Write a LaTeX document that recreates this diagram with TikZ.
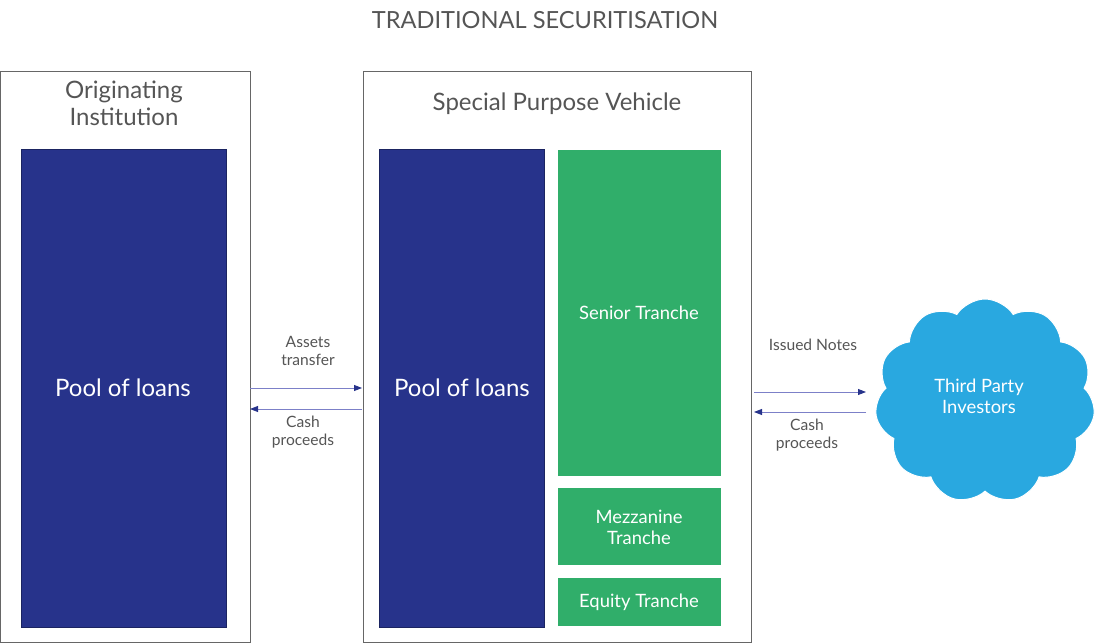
\documentclass[tikz,border=0pt]{standalone}
\usepackage{fontspec}
\setmainfont{Lato}
\usetikzlibrary{shapes.symbols,arrows.meta}
\definecolor{navy}{HTML}{27338B}
\definecolor{grn}{HTML}{30AE6A}
\definecolor{sky}{HTML}{29A8E0}
\definecolor{txt}{HTML}{555555}
\definecolor{frame}{HTML}{666666}
\definecolor{arr}{HTML}{7C80C8}
\begin{document}
\begin{tikzpicture}[x=1pt,y=-1pt,
  outer/.style={draw=frame,line width=1.3pt,anchor=north west,inner sep=0pt},
  pool/.style={fill=navy,draw=navy!70!black,line width=0.5pt,anchor=north west,inner sep=0pt},
  tranche/.style={fill=grn,anchor=north west,inner sep=0pt},
  pooltxt/.style={text=white,font=\fontsize{24}{27}\selectfont},
  trtxt/.style={text=white,font=\fontsize{18.4}{21}\selectfont,align=center},
  lbl/.style={text=txt,font=\fontsize{15.6}{18}\selectfont,align=center},
  hdr/.style={text=txt,font=\fontsize{24}{27}\selectfont,align=center},
  flow/.style={draw=arr,line width=0.9pt,-{Triangle[length=8pt,width=6pt,fill=navy,color=navy]}}
]
\useasboundingbox (0,0) rectangle (1100,644);
\node[text=txt,font=\fontsize{23.6}{27}\selectfont] (title) at (545,20) {TRADITIONAL SECURITISATION};
% left box
\node[outer,minimum width=250pt,minimum height=571pt] (obox) at (0,71) {};
\node[hdr] (otitle) at (124,103) {Originating\\Institution};
\node[pool,minimum width=205pt,minimum height=478pt] (opool) at (21,149) {};
\node[pooltxt] (opooltxt) at (123,388) {Pool of loans};
% SPV box
\node[outer,minimum width=388pt,minimum height=571pt] (sbox) at (363,71) {};
\node[hdr] (stitle) at (557,104) {Special Purpose Vehicle};
\node[pool,minimum width=165pt,minimum height=478pt] (spool) at (379,149) {};
\node[pooltxt] (spooltxt) at (462,388) {Pool of loans};
\node[tranche,minimum width=163pt,minimum height=326pt] (senior) at (558,150) {};
\node[trtxt] (seniortxt) at (639,313) {Senior Tranche};
\node[tranche,minimum width=163pt,minimum height=77pt] (mezz) at (558,488) {};
\node[trtxt] (mezztxt) at (639,527) {Mezzanine\\Tranche};
\node[tranche,minimum width=163pt,minimum height=48pt] (equity) at (558,578) {};
\node[trtxt] (equitytxt) at (639,602) {Equity Tranche};
% cloud
\node[cloud,cloud puffs=11,cloud puff arc=115,aspect=1.1,fill=sky,draw=white,line width=1pt,minimum width=220pt,minimum height=204pt,inner sep=0pt] (cloud) at (985,401) {};
\node[trtxt] (cloudtxt) at (979,396) {Third Party\\Investors};
% arrows left
\coordinate (a1s) at (250,388); \coordinate (a1e) at (362,388);
\coordinate (a2s) at (362,409); \coordinate (a2e) at (250,409);
\draw[flow] (a1s) -- (a1e);
\draw[flow] (a2s) -- (a2e);
\node[lbl] (assets) at (308,351) {Assets\\transfer};
\node[lbl] (cash1) at (303,432) {Cash\\proceeds};
% arrows right
\coordinate (b1s) at (754,392); \coordinate (b1e) at (866,392);
\coordinate (b2s) at (866,412); \coordinate (b2e) at (754,412);
\draw[flow] (b1s) -- (b1e);
\draw[flow] (b2s) -- (b2e);
\node[lbl] (issued) at (813,345) {Issued Notes};
\node[lbl] (cash2) at (807,435) {Cash\\proceeds};
\end{tikzpicture}
\end{document}
